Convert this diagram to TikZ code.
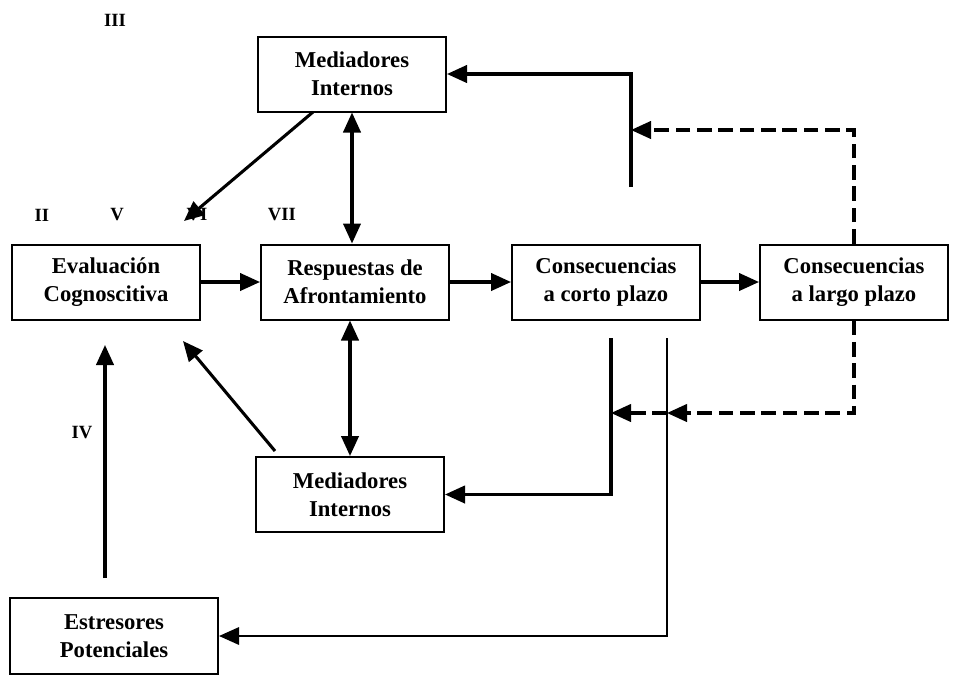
\documentclass[tikz,border=0pt]{standalone}
\usepackage{fontspec}
\setmainfont{Liberation Serif}
\usetikzlibrary{arrows.meta}
\begin{document}
\begin{tikzpicture}[x=0.75pt,y=-0.75pt,
  stage/.style={draw, line width=1.5pt, align=center, inner sep=0pt,
    minimum width=141pt, minimum height=56.25pt,
    font=\bfseries\fontsize{17}{21}\selectfont},
  tag/.style={font=\bfseries\fontsize{14}{16}\selectfont, inner sep=0pt},
  flow/.style={line width=2.3pt, line join=miter,
    -{Triangle[length=15pt,width=13pt]}},
  twoway/.style={line width=2.3pt,
    {Triangle[length=15pt,width=13pt]}-{Triangle[length=15pt,width=13pt]}},
  feed/.style={flow, dash pattern=on 11pt off 5pt},
]
\useasboundingbox (0,0) rectangle (953,676);

% boxes
\node[stage] (eval)   at (106,282)   {Evaluación\\Cognoscitiva};
\node[stage] (resp)   at (355,282)   {Respuestas de\\Afrontamiento};
\node[stage] (corto)  at (606,282)   {Consecuencias\\a corto plazo};
\node[stage] (largo)  at (854,282)   {Consecuencias\\a largo plazo};
\node[stage] (medtop) at (352,74)    {Mediadores\\Internos};
\node[stage] (medbot) at (350,494.5) {Mediadores\\Internos};
\node[stage, minimum width=156pt, minimum height=57pt] (estr) at (114,636)
  {Estresores\\Potenciales};

% roman numerals
\node[tag] (tIII) at (115,20)  {III};
\node[tag] (tII)  at (42,215)  {II};
\node[tag] (tV)   at (117,215) {V};
\node[tag] (tVI)  at (197,215) {VI};
\node[tag] (tVII) at (282,215) {VII};
\node[tag] (tIV)  at (82,433)  {IV};

% free ends and junctions
\coordinate (up)   at (631,187);
\coordinate (jt)   at (631,130);
\coordinate (s1)   at (611,338);
\coordinate (s2)   at (667,338);
\coordinate (jb1)  at (667,413);
\coordinate (jb2)  at (611,413);
\coordinate (u0)   at (105,578);
\coordinate (u1)   at (105,345);
\coordinate (d0)   at (313,112);
\coordinate (d1)   at (184,221);
\coordinate (e0)   at (275,451);
\coordinate (e1)   at (183,341);

% main chain
\draw[flow] (eval) -- (resp);
\draw[flow] (resp) -- (corto);
\draw[flow] (corto) -- (largo);

% mediators
\draw[twoway] (medtop.south) -- (medtop.south |- resp.north);
\draw[twoway] (medbot.north |- resp.south) -- (medbot.north);
\draw[flow] (d0) -- (d1);
\draw[flow] (e0) -- (e1);

% feedback from short-term consequences
\draw[flow] (up) |- (medtop.east);
\draw[flow] (s1) |- (medbot.east);
\draw[flow, line width=1.6pt] (s2) |- (estr.east);

% feedback from long-term consequences
\draw[feed] (largo.north) |- (jt);
\draw[feed] (largo.south) |- (jb1);
\draw[feed] (jb1) -- (jb2);

% stressors
\draw[flow] (u0) -- (u1);
\end{tikzpicture}
\end{document}
